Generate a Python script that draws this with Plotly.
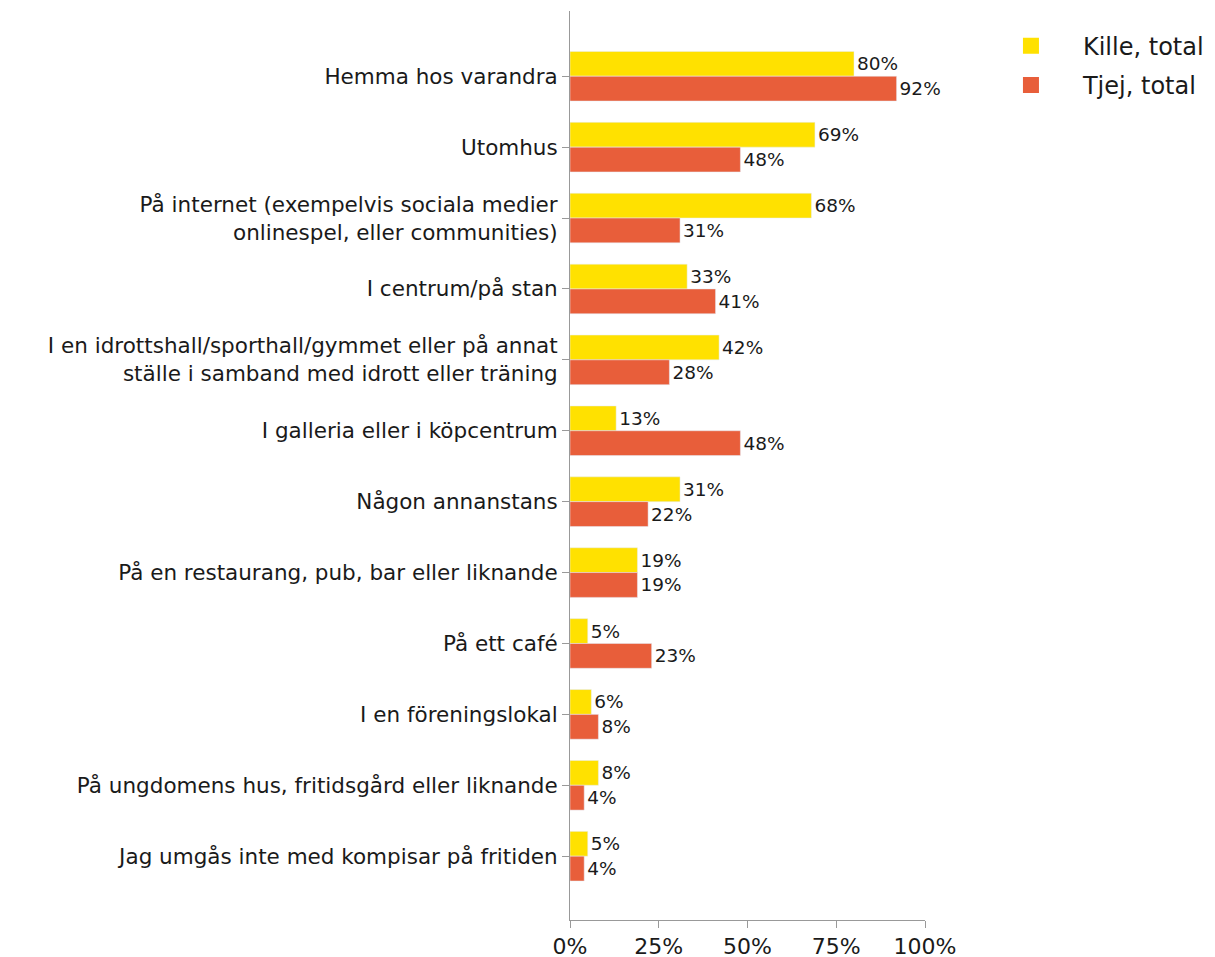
import plotly.graph_objects as go

categories = [
    "Hemma hos varandra",
    "Utomhus",
    "På internet (exempelvis sociala medier<br>onlinespel, eller communities)",
    "I centrum/på stan",
    "I en idrottshall/sporthall/gymmet eller på annat<br>ställe i samband med idrott eller träning",
    "I galleria eller i köpcentrum",
    "Någon annanstans",
    "På en restaurang, pub, bar eller liknande",
    "På ett café",
    "I en föreningslokal",
    "På ungdomens hus, fritidsgård eller liknande",
    "Jag umgås inte med kompisar på fritiden",
]
kille = [80, 69, 68, 33, 42, 13, 31, 19, 5, 6, 8, 5]
tjej = [92, 48, 31, 41, 28, 48, 22, 19, 23, 8, 4, 4]
series_names = ["Kille, total", "Tjej, total"]
series_colors = ["#FFE100", "#E85E3A"]
x_ticks = [0, 25, 50, 75, 100]
x_ticktext = [f"{v}%" for v in x_ticks]

FONT = "DejaVu Sans, sans-serif"
TXT = "#1a1a1a"

fig = go.Figure()
for name, vals, col in zip(series_names, [kille, tjej], series_colors):
    fig.add_trace(go.Bar(
        y=categories, x=vals, name=name, orientation="h",
        marker=dict(color=col),
        text=[f"{v}%" for v in vals], textposition="outside",
        textfont=dict(size=18.5, color=TXT, family=FONT), cliponaxis=False,
        showlegend=False,
    ))
# legend entries (square markers)
for i, (name, col) in enumerate(zip(series_names, series_colors)):
    fig.add_trace(go.Scatter(
        x=[None], y=[None], mode="markers", name=name,
        marker=dict(symbol="square", size=18, color=col),
        legendgroup=f"g{i}", showlegend=True,
    ))

fig.update_layout(
    width=1215, height=957,
    margin=dict(l=562, r=298, t=3, b=45),
    barmode="group", bargap=0.3, bargroupgap=0,
    plot_bgcolor="white", paper_bgcolor="white",
    font=dict(family=FONT, size=21, color=TXT),
    showlegend=True,
    legend=dict(
        x=1.152, y=0.986, xanchor="left", yanchor="top",
        font=dict(size=24, color=TXT),
        itemwidth=94, traceorder="grouped", bgcolor="rgba(0,0,0,0)",
        tracegroupgap=5,
    ),
    xaxis=dict(
        range=[0, 100], tickvals=x_ticks, ticktext=x_ticktext,
        showgrid=False, zeroline=False,
        showline=True, linecolor="#999999", linewidth=1,
        ticks="outside", ticklen=7, tickcolor="#999999",
        tickfont=dict(size=22),
    ),
    yaxis=dict(
        type="category", range=[11.9, -0.92],
        showgrid=False, zeroline=False,
        showline=True, linecolor="#999999", linewidth=1,
        ticks="outside", ticklen=7, tickcolor="#999999",
        tickfont=dict(size=21.5), ticklabelstandoff=0,
    ),
)

fig.write_html("out.html")
